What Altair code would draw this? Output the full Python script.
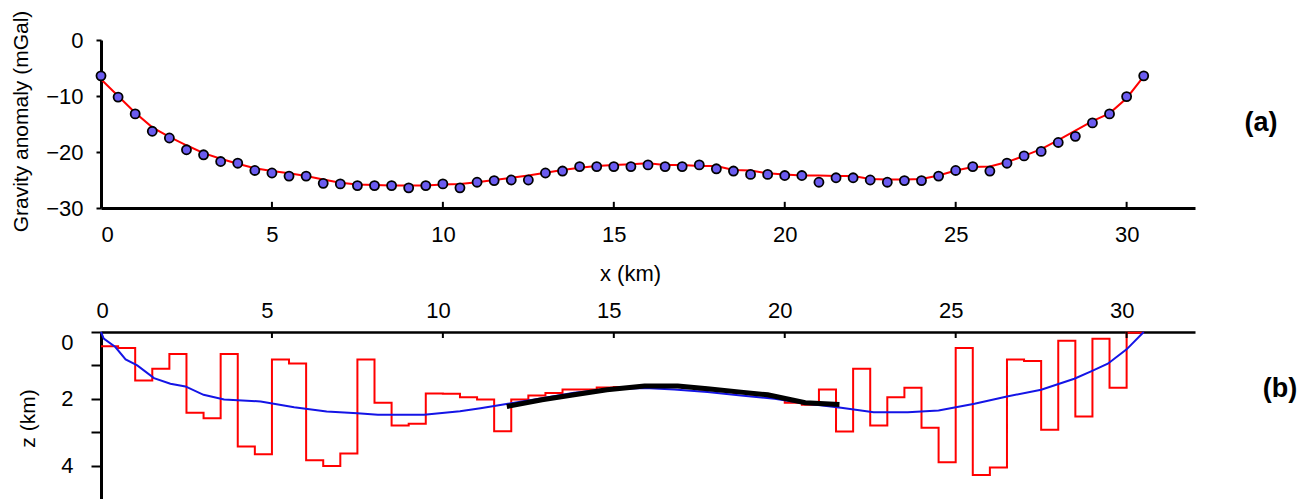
import altair as alt
import pandas as pd

FONT = "Liberation Sans"

# ---------------- panel (a): gravity anomaly ----------------
x_obs = [0, 0.5, 1, 1.5, 2, 2.5, 3, 3.5, 4, 4.5, 5, 5.5, 6, 6.5, 7, 7.5, 8, 8.5, 9, 9.5,
         10, 10.5, 11, 11.5, 12, 12.5, 13, 13.5, 14, 14.5, 15, 15.5, 16, 16.5, 17, 17.5,
         18, 18.5, 19, 19.5, 20, 20.5, 21, 21.5, 22, 22.5, 23, 23.5, 24, 24.5, 25, 25.5,
         26, 26.5, 27, 27.5, 28, 28.5, 29, 29.5, 30, 30.5]
g_obs = [-6.4, -10.2, -13.2, -16.3, -17.5, -19.6, -20.5, -21.7, -22.0, -23.3, -23.75, -24.3,
         -24.3, -25.6, -25.7, -26.0, -26.0, -26.0, -26.4, -26.0, -25.7, -26.4, -25.4, -25.1,
         -25.0, -25.0, -23.75, -23.4, -22.6, -22.6, -22.6, -22.6, -22.3, -22.6, -22.6, -22.3,
         -23.0, -23.4, -24.0, -24.0, -24.2, -24.2, -25.4, -24.6, -24.6, -25.0, -25.4, -25.1,
         -25.1, -24.3, -23.3, -22.6, -23.4, -22.0, -20.7, -19.9, -18.3, -17.2, -14.8, -13.2,
         -10.1, -6.4]
g_calc = [-7.0, -10.0, -13.0, -15.6, -17.3, -18.8, -20.2, -21.2, -22.1, -22.9, -23.4, -23.8,
          -24.3, -24.9, -25.5, -25.8, -25.9, -26.0, -26.0, -26.0, -25.8, -25.7, -25.4, -25.0,
          -24.6, -24.2, -23.7, -23.2, -22.8, -22.5, -22.3, -22.2, -22.0, -22.3, -22.3, -22.5,
          -22.5, -23.2, -23.3, -23.8, -24.0, -24.2, -24.2, -24.3, -24.3, -24.8, -24.9, -24.9,
          -24.8, -24.2, -23.3, -22.7, -22.6, -21.8, -20.7, -19.5, -17.9, -16.2, -14.5, -13.1,
          -10.4, -6.5]
x_ticks = [5, 10, 15, 20, 25, 30]
x_labels = [0, 5, 10, 15, 20, 25, 30]
g_labels = [0, -10, -20, -30]

# ---------------- panel (b): depth model ----------------
z_blocks = [0.43, 0.48, 1.45, 1.10, 0.66, 2.42, 2.58, 0.66, 3.43, 3.66, 0.82, 0.94, 3.84,
            4.01, 3.64, 0.82, 2.12, 2.80, 2.75, 1.84, 1.85, 1.95, 2.02, 2.97, 2.02, 1.90,
            1.83, 1.72, 1.72, 1.66, 1.65, 1.63, 1.62, 1.63, 1.67, 1.72, 1.77, 1.82, 1.87,
            1.95, 2.12, 2.18, 1.72, 2.98, 1.10, 2.80, 1.95, 1.67, 2.87, 3.90, 0.48, 4.28,
            4.06, 0.82, 0.87, 2.93, 0.26, 2.53, 0.20, 1.67, 0.02]
x_blue = [0, 0.08, 0.42, 0.72, 1.06, 1.55, 2.03, 2.47, 3.0, 3.6, 4.67, 5.65, 6.6, 7.5, 8.1,
          9.45, 10.5, 11.1, 11.9, 12.9, 13.84, 14.8, 15.9, 16.77, 17.74, 18.72, 19.7, 20.67,
          21.65, 22.6, 23.6, 24.5, 25.55, 26.5, 27.5, 28.47, 28.96, 29.45, 30.0, 30.5]
z_blue = [0.0, 0.2, 0.45, 0.82, 1.0, 1.38, 1.55, 1.63, 1.88, 2.02, 2.08, 2.25, 2.38, 2.43,
          2.48, 2.48, 2.37, 2.28, 2.15, 1.98, 1.82, 1.72, 1.68, 1.72, 1.8, 1.9, 2.0, 2.15,
          2.27, 2.4, 2.4, 2.35, 2.15, 1.93, 1.73, 1.4, 1.18, 0.95, 0.52, 0.0]
x_black = [11.87, 12.9, 13.84, 14.8, 15.9, 16.87, 17.74, 18.72, 19.5, 20.6, 21.6]
z_black = [2.23, 2.03, 1.88, 1.73, 1.62, 1.62, 1.70, 1.80, 1.88, 2.12, 2.17]
z_ticks = [0, 1, 2, 3, 4]

# ---------------- tables ----------------
df_a = pd.DataFrame({"x": x_obs, "obs": g_obs, "calc": g_calc})
df_a_ticks = pd.DataFrame({"x": x_ticks, "y": [-30] * len(x_ticks), "y2": [-28.9] * len(x_ticks)})
df_steps = pd.DataFrame({"x": x_obs, "z": z_blocks + [z_blocks[-1]]})
df_blue = pd.DataFrame({"x": x_blue, "z": z_blue})
df_black = pd.DataFrame({"x": x_black, "z": z_black})
df_b_ticks = pd.DataFrame({"x": x_ticks, "z": [0] * len(x_ticks), "z2": [0.18] * len(x_ticks)})

W = 1094
xscale = alt.Scale(domain=[0, 32], nice=False, zero=False)

# ---------- top panel ----------
xa = alt.X("x:Q", scale=xscale, axis=alt.Axis(
    values=x_labels, ticks=False, grid=False, domainColor="black", domainWidth=3,
    labelFontSize=22, labelFont=FONT, labelColor="black", labelPadding=16,
    title="x (km)", titleFont=FONT, titleFontSize=22, titleFontWeight="normal",
    titleColor="black", titleX=529, titleY=72, titleBaseline="alphabetic"))
ya_scale = alt.Scale(domain=[-30, 0], nice=False, zero=False)
ya_axis = alt.Axis(
    values=g_labels, tickSize=5, tickWidth=2, tickColor="black", grid=False,
    domainColor="black", domainWidth=3, labelFontSize=22, labelFont=FONT,
    labelColor="black", labelPadding=13,
    title="Gravity anomaly (mGal)", titleFont=FONT, titleFontSize=21,
    titleFontWeight="normal", titleColor="black", titleX=-74, titleY=81,
    titleBaseline="alphabetic")

calc_line = alt.Chart(df_a).mark_line(color="#ff0000", strokeWidth=2).encode(
    x=xa, y=alt.Y("calc:Q", scale=ya_scale, axis=ya_axis))
obs_pts = alt.Chart(df_a).mark_circle(
    size=82, color="#6b5cf0", opacity=1, stroke="black", strokeWidth=1.8).encode(
    x=xa, y=alt.Y("obs:Q", scale=ya_scale, axis=ya_axis))
ticks_a = alt.Chart(df_a_ticks).mark_rule(color="black", strokeWidth=2).encode(
    x=xa, y=alt.Y("y:Q", scale=ya_scale, axis=ya_axis), y2="y2:Q")
label_a = alt.Chart(pd.DataFrame({"t": ["(a)"]})).mark_text(
    font=FONT, fontSize=27, fontWeight="bold", color="black", align="center",
    baseline="middle").encode(text="t:N", x=alt.value(1160), y=alt.value(83))

top = alt.layer(calc_line, obs_pts, ticks_a, label_a).properties(width=W, height=168)

# ---------- bottom panel ----------
xb = alt.X("x:Q", scale=xscale, axis=alt.Axis(
    orient="top", values=x_labels, ticks=False, grid=False, domainColor="black",
    domainWidth=2.5, labelFontSize=22, labelFont=FONT, labelColor="black",
    labelPadding=10, labelOffset=-5, title=None))
zb_scale = alt.Scale(domain=[0, 5], reverse=True, nice=False, zero=False)
zb_axis = alt.Axis(
    values=z_ticks, labelExpr="datum.value % 2 == 0 ? datum.label : ''",
    tickSize=10, tickWidth=2, tickColor="black", grid=False, domainColor="black",
    domainWidth=3, labelFontSize=22, labelFont=FONT, labelColor="black",
    labelPadding=18, labelFlush=True,
    title="z (km)", titleFont=FONT, titleFontSize=21, titleFontWeight="normal",
    titleColor="black", titleX=-67, titleY=86, titleBaseline="alphabetic")
zb = alt.Y("z:Q", scale=zb_scale, axis=zb_axis)

steps = alt.Chart(df_steps).mark_line(
    color="#ff0000", strokeWidth=2, interpolate="step-after").encode(x=xb, y=zb)
blue = alt.Chart(df_blue).mark_line(color="#1414e6", strokeWidth=2).encode(x=xb, y=zb)
black = alt.Chart(df_black).mark_line(color="black", strokeWidth=5).encode(x=xb, y=zb)
ticks_b = alt.Chart(df_b_ticks).mark_rule(color="black", strokeWidth=2).encode(
    x=xb, y=zb, y2="z2:Q")
label_b = alt.Chart(pd.DataFrame({"t": ["(b)"]})).mark_text(
    font=FONT, fontSize=27, fontWeight="bold", color="black", align="center",
    baseline="middle").encode(text="t:N", x=alt.value(1179), y=alt.value(57))

bottom = alt.layer(steps, blue, black, ticks_b, label_b).properties(width=W, height=167)

chart = alt.vconcat(top, bottom, spacing=124, bounds="flush").properties(
    padding={"left": 9, "top": 10, "right": 0, "bottom": 0}
).configure(background="white", view=alt.ViewConfig(stroke=None))

chart.save("out.html", embed_options={"renderer": "svg", "actions": False})
